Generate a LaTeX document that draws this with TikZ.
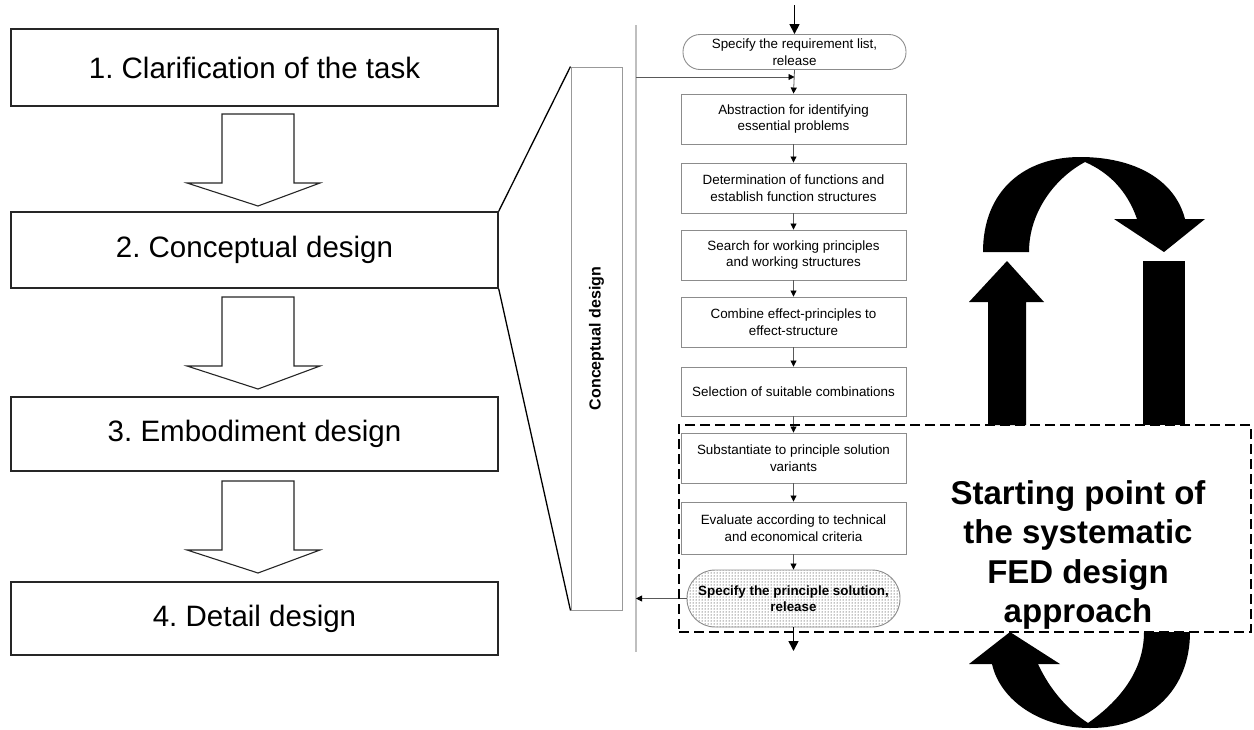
\documentclass[tikz,border=0pt]{standalone}
\usepackage{fontspec}
\setmainfont{Liberation Sans}
\usetikzlibrary{arrows.meta,patterns}
\frenchspacing
\begin{document}
\begin{tikzpicture}[x=1pt,y=-1pt,
  lbox/.style={draw=black!85, line width=1.4pt, minimum width=487pt, inner sep=0pt, font=\fontsize{29.5}{34}\selectfont},
  blockarr/.style={draw=black!85, line width=1.1pt, fill=white, line join=miter},
  flowbox/.style={draw=black!45, line width=0.9pt, minimum width=225pt, minimum height=50pt, inner sep=0pt, align=center, font=\fontsize{13.4}{16.5}\selectfont},
  flowarr/.style={draw=black!65, line width=0.8pt, -{Triangle[length=6pt,width=6pt,black]}},
  bigarr/.style={draw=black, line width=1.6pt, -{Triangle[length=10pt,width=10pt]}},
  vline/.style={draw=black!25, line width=1.6pt}
]
\useasboundingbox (0,0) rectangle (1254,729);

% left column
\node[lbox, minimum height=77pt] (b1) at (254.5,67.5) {1. Clarification of the task};
\node[lbox, minimum height=76pt] (b2) at (254.5,250) {2. Conceptual design};
\node[lbox, minimum height=74pt] (b3) at (254.5,434) {3. Embodiment design};
\node[lbox, minimum height=73pt] (b4) at (254.5,618.5) {4. Detail design};

\draw[blockarr] (222,114) -- (294,114) -- (294,183) -- (320,183) -- (258,206) -- (187,183) -- (222,183) -- cycle;
\draw[blockarr] (222,297) -- (294,297) -- (294,366) -- (320,366) -- (258,389) -- (187,366) -- (222,366) -- cycle;
\draw[blockarr] (222,481) -- (294,481) -- (294,550) -- (320,550) -- (258,573) -- (187,550) -- (222,550) -- cycle;

% conceptual design box
\node[draw=black!40, line width=1pt, minimum width=51pt, minimum height=543pt, inner sep=0pt] (cd) at (596.5,338.5) {};
\node[rotate=90, font=\fontsize{16}{19}\selectfont\bfseries] (cdl) at (cd.center) {Conceptual design};
\draw[line width=1.3pt] (b2.north east) -- (cd.north west);
\draw[line width=1.3pt] (b2.south east) -- (cd.south west);

% vertical line
\coordinate (vtop) at (636,25);
\coordinate (vbot) at (636,652);
\draw[vline] (vtop) -- (vbot);

% flowchart
\node[flowbox, minimum width=223pt, minimum height=35pt, rounded corners=17pt] (r0) at (794.5,52) {Specify the requirement list,\\release};
\node[flowbox] (r1) at (793.5,119) {Abstraction for identifying\\essential problems};
\node[flowbox] (r2) at (793.5,188) {Determination of functions and\\establish function structures};
\node[flowbox] (r3) at (793.5,255) {Search for working principles\\and working structures};
\node[flowbox] (r4) at (793.5,322) {Combine effect-principles to\\effect-structure};
\node[flowbox, minimum height=49pt] (r5) at (793.5,391.5) {Selection of suitable combinations};
\node[flowbox] (r6) at (793.5,458) {Substantiate to principle solution\\variants};
\node[flowbox, minimum height=52pt] (r7) at (793.5,528) {Evaluate according to technical\\and economical criteria};
\node[flowbox, minimum width=213pt, minimum height=57pt, rounded corners=28pt, pattern=dots, pattern color=black, font=\fontsize{13.4}{16.5}\selectfont\bfseries] (r8) at (793.5,598.5) {Specify the principle solution,\\release};

\coordinate (in) at (794.5,5);
\coordinate (out) at (793.5,651);
\coordinate (h0) at (636,77);
\draw[bigarr] (in) -- (r0.north);
\draw[flowarr] (h0) -- (h0 -| r0.south);
\draw[flowarr] (r0.south) -- (r1.north);
\draw[flowarr] (r1.south) -- (r2.north);
\draw[flowarr] (r2.south) -- (r3.north);
\draw[flowarr] (r3.south) -- (r4.north);
\draw[flowarr] (r4.south) -- (r5.north);
\draw[flowarr] (r5.south) -- (r6.north);
\draw[flowarr] (r6.south) -- (r7.north);
\draw[flowarr] (r7.south) -- (r8.north);
\draw[flowarr] (r8.west) -- (r8.west -| vtop);
\draw[bigarr] (r8.south) -- (out);

% black loop arrows
\fill[black] (988,425) -- (1026,425) -- (1026,302) -- (1044,302) -- (1007,261) -- (969,302) -- (988,302) -- cycle;
\fill[black] (1143,261) rectangle (1185,425);
\fill[black] (983,252) .. controls (983,190) and (1025,157) .. (1080,157)
  .. controls (1135,157) and (1175,180) .. (1185,219) -- (1205,219) -- (1164,252) -- (1114,219) -- (1137,219)
  .. controls (1127,190) and (1108,172) .. (1085,162)
  .. controls (1055,178) and (1029,212) .. (1029,252) -- cycle;
\fill[black] (1190,632) .. controls (1190,690) and (1150,728) .. (1090,728)
  .. controls (1040,728) and (1000,700) .. (992,664) -- (969,664) -- (1010,632) -- (1060,664) -- (1038,664)
  .. controls (1050,690) and (1068,710) .. (1088,723)
  .. controls (1118,702) and (1144,672) .. (1144,632) -- cycle;

% dashed region and label
\node[draw=black, line width=2pt, dash pattern=on 10pt off 5pt, minimum width=572pt, minimum height=207pt, inner sep=0pt] (dreg) at (965,528.5) {};
\node[align=center, font=\fontsize{33}{39.5}\selectfont\bfseries] (sp) at (1078,555) {Starting point of\\the systematic\\FED design\\approach};
\end{tikzpicture}
\end{document}
